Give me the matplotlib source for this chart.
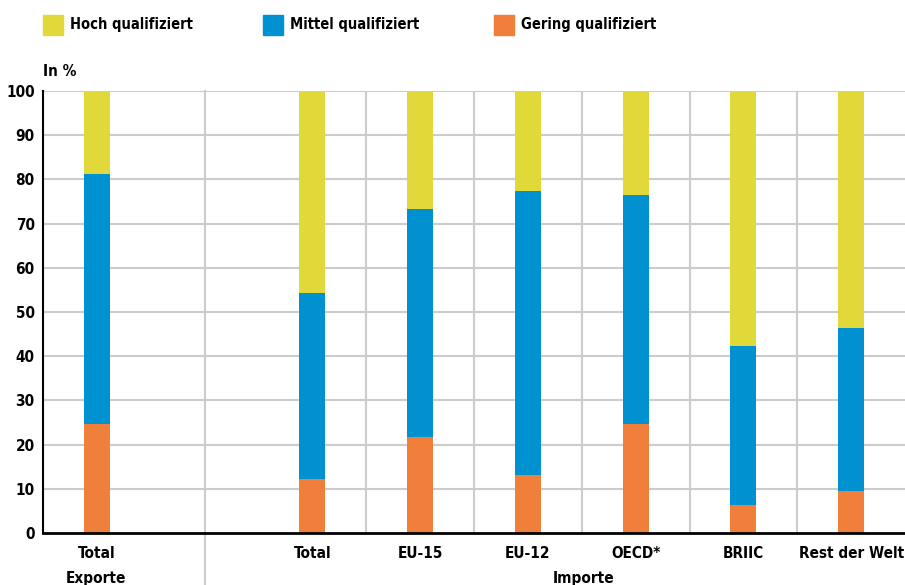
import numpy as np
import matplotlib.pyplot as plt

plt.rcParams['font.family'] = ['DejaVu Sans']
plt.rcParams['font.stretch'] = 'condensed'
plt.rcParams['font.weight'] = 'bold'

# Anteile nach Qualifikationsniveau (in %)
categories = ['Total', 'Total', 'EU-15', 'EU-12', 'OECD*', 'BRIIC', 'Rest der Welt']
positions = [0, 2, 3, 4, 5, 6, 7]
gering = [24.7, 12.3, 21.8, 13.2, 24.7, 6.4, 9.4]
mittel = [56.5, 42.1, 51.5, 64.2, 51.8, 36.0, 37.0]
hoch = [18.8, 45.6, 26.7, 22.6, 23.5, 57.6, 53.6]

c_hoch = '#e1d83a'
c_mittel = '#0091d0'
c_gering = '#f07f3c'

fig = plt.figure(figsize=(9.05, 5.85), dpi=100)
ax = fig.add_axes([43/905, 52/585, 862/905, 442/585])

g = np.array(gering)
m = np.array(mittel)
h = np.array(hoch)
w = 0.24
ax.bar(positions, g, width=w, color=c_gering, zorder=3)
ax.bar(positions, m, width=w, bottom=g, color=c_mittel, zorder=3)
ax.bar(positions, h, width=w, bottom=g + m, color=c_hoch, zorder=3)

ax.set_xlim(-0.5, 7.5)
ax.set_ylim(0, 100)
ax.set_yticks(range(0, 101, 10))
ax.set_xticks(positions)
ax.set_xticklabels(categories)
ax.tick_params(axis='both', length=0, labelsize=11)
ax.tick_params(axis='y', pad=6)
ax.tick_params(axis='x', pad=9)

# Gitterlinien
for yv in range(10, 101, 10):
    ax.axhline(yv, color='#cccccc', lw=1.5, zorder=1)
for xv in [2.5, 3.5, 4.5, 5.5, 6.5]:
    ax.axvline(xv, color='#cccccc', lw=1.5, zorder=1)
# Trennlinie Exporte / Importe bis zum unteren Rand
ax.axvline(1.0, ymin=-52/442, ymax=1, color='#cccccc', lw=1.5, zorder=1, clip_on=False)

for s in ['top', 'right']:
    ax.spines[s].set_visible(False)
ax.spines['left'].set_linewidth(1.5)
ax.spines['bottom'].set_linewidth(2)
ax.spines['left'].set_zorder(4)
ax.spines['bottom'].set_zorder(4)

# Legende
legend = [('Hoch qualifiziert', c_hoch, 43), ('Mittel qualifiziert', c_mittel, 263),
          ('Gering qualifiziert', c_gering, 494)]
for label, col, x0 in legend:
    fig.patches.append(plt.Rectangle((x0/905, 1 - 35/585), 20/905, 20/585,
                                     transform=fig.transFigure, color=col))
    fig.text((x0 + 27)/905, 1 - 25/585, label, fontsize=10.5, va='center', ha='left')

fig.text(43/905, 1 - 72/585, 'In %', fontsize=11, va='center', ha='left')
fig.text(96/905, 1 - 579/585, 'Exporte', fontsize=11, va='center', ha='center')
fig.text(584/905, 1 - 579/585, 'Importe', fontsize=11, va='center', ha='center')

fig.savefig('out.png', dpi=100)
